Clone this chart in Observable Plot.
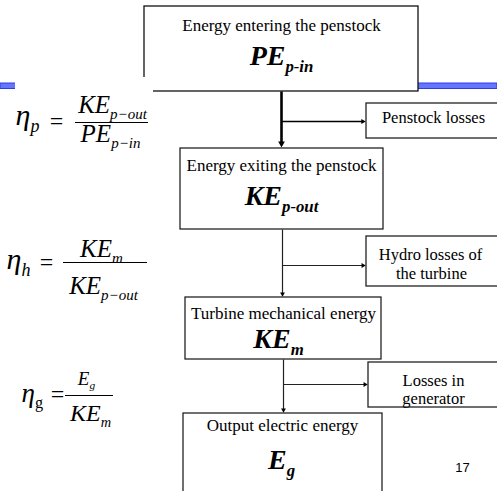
<!DOCTYPE html>
<html><head><meta charset="utf-8">
<script src="https://cdn.jsdelivr.net/npm/d3@7"></script>
<script src="https://cdn.jsdelivr.net/npm/@observablehq/plot@0.6"></script>
<style>
html,body{margin:0;padding:0;background:#fff;}
#chart{width:497px;height:491px;overflow:hidden}
</style>
</head><body><div id="chart"></div>
<script>
// ---- content ----
const stageTitles = ["Energy entering the penstock", "Energy exiting the penstock", "Turbine mechanical energy", "Output electric energy"];
const stageSymbols = ["PE_{p-in}", "KE_{p-out}", "KE_{m}", "E_{g}"];
const lossLines = ["Penstock losses", "Hydro losses of", "the turbine", "Losses in", "generator"];
const etaNames = ["η_{p}", "η_{h}", "η_[g]"];
const numerators = ["KE_{p−out}", "KE_{m}", "E_{g}"];
const denominators = ["PE_{p−in}", "KE_{p−out}", "KE_{m}"];
const pageNumber = "17";

// ---- layout (diagram coordinates, px) ----
const stageBoxes = [
  {x1: 144, x2: 418, y1: 6, y2: 91},
  {x1: 180, x2: 383, y1: 148, y2: 229},
  {x1: 185, x2: 381, y1: 297, y2: 359},
  {x1: 183, x2: 382, y1: 413, y2: 497}
];
const titlePos = [{x: 281, y: 30}, {x: 281, y: 170}, {x: 283, y: 318}, {x: 282, y: 430}];
const symbolPos = [{x: 281, y: 64}, {x: 281, y: 204}, {x: 278, y: 347}, {x: 281, y: 468}];
const lossBoxes = [
  {x1: 366, x2: 499, y1: 103, y2: 138},
  {x1: 366, x2: 499, y1: 236, y2: 286},
  {x1: 368, x2: 499, y1: 362, y2: 407}
];
const lossPos = [{x: 433, y: 122}, {x: 430, y: 259}, {x: 431, y: 278}, {x: 433, y: 385}, {x: 433, y: 403}];
const arrows = [
  {x1: 281, y1: 91, x2: 281, y2: 148, r: 3.2, rot: 180},
  {x1: 281, y1: 121, x2: 366, y2: 121, r: 2.4, rot: 90},
  {x1: 282, y1: 229, x2: 282, y2: 297, r: 2.3, rot: 180},
  {x1: 282, y1: 265, x2: 366, y2: 265, r: 2.3, rot: 90},
  {x1: 283, y1: 359, x2: 283, y2: 413, r: 2.3, rot: 180},
  {x1: 283, y1: 384, x2: 368, y2: 384, r: 2.3, rot: 90}
];
const etaPos = [{x: 15, y: 124, s: 30}, {x: 6, y: 268, s: 30}, {x: 21, y: 401, s: 27}];
const equalPos = [{x: 56, y: 128}, {x: 46, y: 269}, {x: 57, y: 401}];
const fractionBars = [{y: 122, x1: 75, x2: 148}, {y: 262, x1: 63, x2: 147}, {y: 395, x1: 65, x2: 113}];
const numPos = [{x: 112, y: 112, s: 25}, {x: 101, y: 256, s: 25}, {x: 86, y: 384, s: 19}];
const denPos = [{x: 110, y: 141, s: 25}, {x: 103, y: 293, s: 25}, {x: 90, y: 420, s: 24}];
const headerBar = [{x1: 0, x2: 497, y1: 83, y2: 88.5}];
const formulaPatch = [{x1: 15, x2: 153, y1: 77, y2: 96}];
const pagePos = [{x: 462, y: 471}];

const zip = (labels, pos) => labels.map((t, i) => ({t, ...pos[i]}));

// arrowhead centroid offset: tip distance of d3 triangle = 2*sqrt(size/(3*sqrt3)), size = pi r^2
const tipOff = r => 2 * Math.sqrt(Math.PI * r * r / (3 * Math.sqrt(3)));
const headX = d => d.rot === 90 ? d.x2 - tipOff(d.r) : d.x2;
const headY = d => d.rot === 180 ? d.y2 - tipOff(d.r) : d.y2;

const marks = [
  Plot.rect(headerBar, {x1: "x1", x2: "x2", y1: "y1", y2: "y2", fill: "#6675ff", stroke: "#2e3fe0", strokeWidth: 1}),
  Plot.rect(stageBoxes.slice(0, 1), {x1: "x1", x2: "x2", y1: "y1", y2: "y2", fill: "white", stroke: "#111", strokeWidth: 1.3}),
  Plot.rect(formulaPatch, {x1: "x1", x2: "x2", y1: "y1", y2: "y2", fill: "white"}),
  Plot.rect(stageBoxes.slice(1), {x1: "x1", x2: "x2", y1: "y1", y2: "y2", fill: "white", stroke: "#111", strokeWidth: 1.2}),
  Plot.rect(lossBoxes, {x1: "x1", x2: "x2", y1: "y1", y2: "y2", fill: "white", stroke: "#222", strokeWidth: 1.3}),
  Plot.link(arrows.slice(0, 1), {x1: "x1", y1: "y1", x2: "x2", y2: d => d.y2 - 4, stroke: "#000", strokeWidth: 2.6}),
  Plot.link(arrows.slice(1, 2), {x1: "x1", y1: "y1", x2: d => d.x2 - 3, y2: "y2", stroke: "#000", strokeWidth: 1.5}),
  Plot.link(arrows.slice(2), {x1: "x1", y1: "y1", x2: d => d.rot === 90 ? d.x2 - 3 : d.x2, y2: d => d.rot === 180 ? d.y2 - 3 : d.y2, stroke: "#222", strokeWidth: 1.2}),
  ...arrows.map(a => Plot.dot([a], {x: headX, y: headY, symbol: "triangle2", r: a.r, rotate: a.rot, fill: "#000", stroke: "none"})),
  Plot.text(zip(stageTitles, titlePos), {x: "x", y: "y", text: "t", lineAnchor: "bottom", fontSize: 17, fill: "#000"}),
  Plot.text(zip(stageSymbols, symbolPos), {x: "x", y: "y", text: "t", lineAnchor: "bottom", fontSize: 28, fontWeight: "bold", fontStyle: "italic", fill: "#000"}),
  Plot.text(zip(lossLines, lossPos), {x: "x", y: "y", text: "t", lineAnchor: "bottom", fontSize: 16.5, fill: "#000"}),
  Plot.ruleY(fractionBars, {y: "y", x1: "x1", x2: "x2", stroke: "#000", strokeWidth: 1.2}),
  ...etaNames.map((t, i) => Plot.text([{t, ...etaPos[i]}], {x: "x", y: "y", text: "t", lineAnchor: "bottom", textAnchor: "start", fontSize: etaPos[i].s, fontStyle: "italic", fill: "#000"})),
  Plot.text(equalPos.map(p => ({t: "=", ...p})), {x: "x", y: "y", text: "t", lineAnchor: "bottom", fontSize: 24, fill: "#000"}),
  ...numerators.map((t, i) => Plot.text([{t, ...numPos[i]}], {x: "x", y: "y", text: "t", lineAnchor: "bottom", fontSize: numPos[i].s, fontStyle: "italic", fill: "#000"})),
  ...denominators.map((t, i) => Plot.text([{t, ...denPos[i]}], {x: "x", y: "y", text: "t", lineAnchor: "bottom", fontSize: denPos[i].s, fontStyle: "italic", fill: "#000"})),
  Plot.text(pagePos.map(p => ({t: pageNumber, ...p})), {x: "x", y: "y", text: "t", lineAnchor: "bottom", fontSize: 13, fill: "#000"})
];

const svg = Plot.plot({
  width: 497, height: 491, margin: 0,
  x: {domain: [0, 497], range: [0, 497], axis: null},
  y: {domain: [0, 491], range: [0, 491], axis: null},
  style: {background: "white", overflow: "hidden"},
  marks
});

// fonts (inline) and "X_{sub}" (italic) / "X_[sub]" (upright) subscripts as tspans
d3.select(svg).selectAll("text").each(function () {
  const t = this.textContent;
  this.style.fontFamily = t === pageNumber ? "Liberation Sans" : "Liberation Serif";
  const m = t.match(/^(.*?)_(\{|\[)(.*)(\}|\])$/);
  if (!m) return;
  this.textContent = "";
  const s = d3.select(this);
  s.append("tspan").text(m[1]);
  const sub = s.append("tspan").attr("dy", "0.42em").attr("font-size", "60%").text(m[3]);
  if (m[2] === "[") sub.attr("font-style", "normal");
});

document.getElementById("chart").appendChild(svg);
</script>
</body></html>
